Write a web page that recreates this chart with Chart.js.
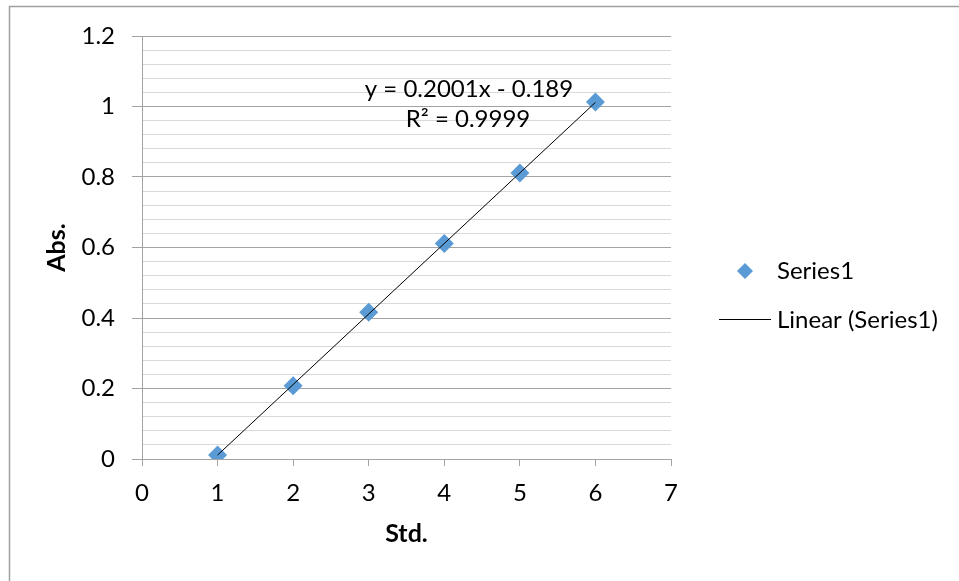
<!DOCTYPE html>
<html><head><meta charset="utf-8">
<script src="https://cdn.jsdelivr.net/npm/chart.js@4"></script>
<style>html,body{margin:0;padding:0;background:#fff;}canvas{display:block}</style>
</head><body>
<canvas id="c" width="959" height="581"></canvas>
<script>
const stdX = [1, 2, 3, 4, 5, 6];
const absY = [0.011, 0.208, 0.416, 0.611, 0.811, 1.013];
const trendX = [1, 6];
const trendY = [0.0111, 1.0116];
const yTickLabels = ['0', '0.2', '0.4', '0.6', '0.8', '1', '1.2'];
const equationLines = ['y = 0.2001x - 0.189', 'R\u00B2 = 0.9999'];
const seriesNames = ['Series1', 'Linear (Series1)'];
const axisTitles = { x: 'Std.', y: 'Abs.' };

const FONT = 'Lato, "Noto Sans", sans-serif';
const BLUE = '#5b9bd5';
const MAJOR = '#a3a3a3';
const MINOR = '#d9d9d9';

const extras = {
  id: 'extras',
  beforeDraw(chart) {
    const ctx = chart.ctx;
    ctx.save();
    ctx.fillStyle = '#fff';
    ctx.fillRect(0, 0, chart.width, chart.height);
    ctx.strokeStyle = '#a0a0a0';
    ctx.lineWidth = 1.5;
    ctx.strokeRect(9.5, 6.5, 1200, 1200);
    ctx.restore();
  },
  afterDraw(chart) {
    const ctx = chart.ctx;
    ctx.save();
    ctx.fillStyle = '#000';
    ctx.font = '24px ' + FONT;
    ctx.textAlign = 'center';
    ctx.textBaseline = 'middle';
    ctx.fillText(equationLines[0], 469, 89);
    ctx.fillText(equationLines[1], 468, 119);
    // legend
    ctx.textAlign = 'left';
    ctx.fillStyle = BLUE;
    const dx = 745, dy = 271, r = 8;
    ctx.beginPath();
    ctx.moveTo(dx - r, dy); ctx.lineTo(dx, dy - r); ctx.lineTo(dx + r, dy); ctx.lineTo(dx, dy + r);
    ctx.closePath(); ctx.fill();
    ctx.fillStyle = '#000';
    ctx.fillText(seriesNames[0], 777, 271);
    ctx.strokeStyle = '#000';
    ctx.lineWidth = 1;
    ctx.beginPath(); ctx.moveTo(719, 319.5); ctx.lineTo(771, 319.5); ctx.stroke();
    ctx.fillText(seriesNames[1], 777, 320);
    ctx.restore();
  }
};

new Chart(document.getElementById('c'), {
  type: 'scatter',
  data: {
    datasets: [
      {
        label: seriesNames[0],
        data: stdX.map((x, i) => ({ x, y: absY[i] })),
        pointStyle: 'rectRot',
        pointRadius: 9.5,
        pointHoverRadius: 9.5,
        backgroundColor: BLUE,
        borderWidth: 0,
        order: 1
      },
      {
        type: 'line',
        label: seriesNames[1],
        data: trendX.map((x, i) => ({ x, y: trendY[i] })),
        borderColor: '#000',
        borderWidth: 1,
        pointRadius: 0,
        fill: false,
        order: 0
      }
    ]
  },
  options: {
    responsive: false,
    animation: false,
    devicePixelRatio: 1,
    layout: { padding: { left: 0, top: 36, right: 288, bottom: 0 } },
    plugins: { legend: { display: false }, tooltip: { enabled: false } },
    scales: {
      x: {
        type: 'linear', min: 0, max: 7,
        ticks: { stepSize: 1, color: '#000', font: { family: FONT, size: 24 }, padding: 13 },
        grid: { drawOnChartArea: false, drawTicks: true, tickLength: 7, tickColor: MAJOR },
        border: { color: MAJOR },
        title: { display: true, text: axisTitles.x, color: '#000', font: { family: FONT, size: 25, weight: 'bold' }, padding: { top: 0, bottom: 32 } },
        afterFit(s) { s.height = 122; }
      },
      y: {
        type: 'linear', min: 0, max: 1.2,
        ticks: {
          stepSize: 0.04, autoSkip: false, color: '#000', font: { family: FONT, size: 24 }, padding: 17,
          callback: (v, i) => (i % 5 === 0 ? yTickLabels[i / 5] : '')
        },
        grid: {
          color: (c) => (c.index % 5 === 0 ? MAJOR : MINOR),
          tickColor: (c) => (c.index % 5 === 0 ? MAJOR : 'rgba(0,0,0,0)'),
          tickLength: 10, lineWidth: 1
        },
        border: { color: MAJOR },
        title: { display: true, text: axisTitles.y, color: '#000', font: { family: FONT, size: 25, weight: 'bold' }, padding: { top: 42, bottom: 0 } },
        afterFit(s) { s.width = 142; }
      }
    }
  },
  plugins: [extras]
});
</script>
</body></html>
